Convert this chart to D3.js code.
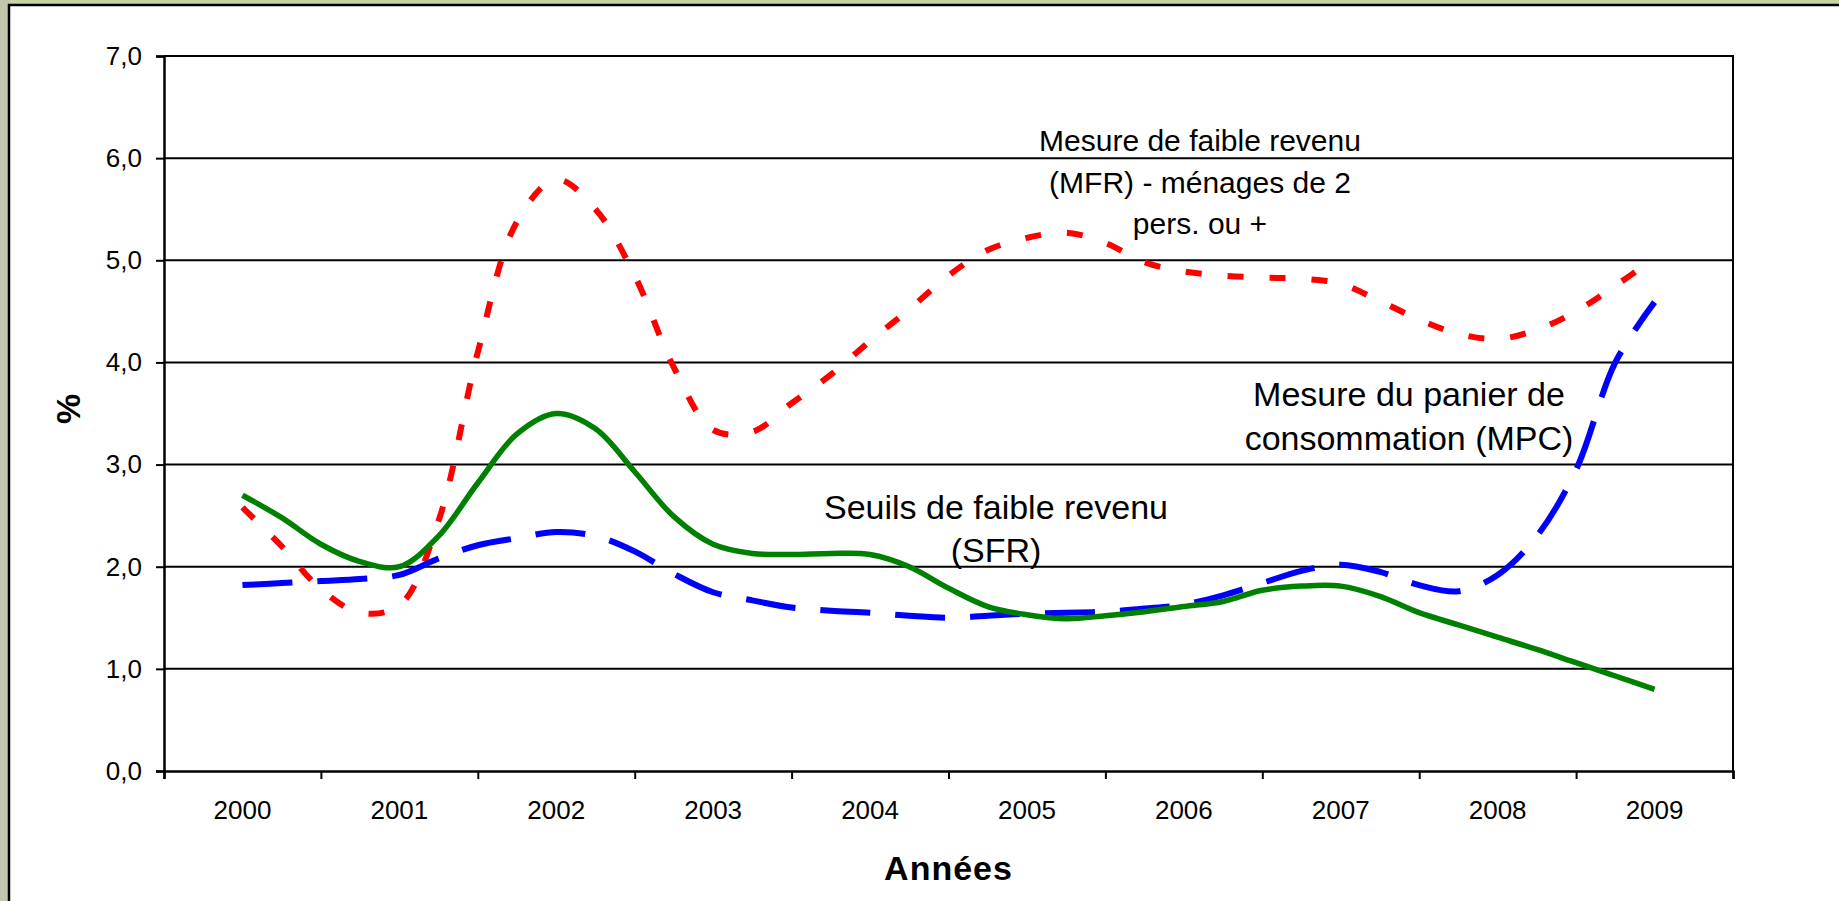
<!DOCTYPE html>
<html>
<head>
<meta charset="utf-8">
<script src="https://cdn.jsdelivr.net/npm/d3@7"></script>
<style>
  html, body { margin: 0; padding: 0; background: #c6d3a7; }
  svg { display: block; }
  text { font-family: "Liberation Sans", Arial, sans-serif; fill: #000; }
</style>
</head>
<body>
<svg id="chart" width="1839" height="901"></svg>
<script>
// ---- Data ----
const years = ["2000","2001","2002","2003","2004","2005","2006","2007","2008","2009"];
const yTicks = [0, 1, 2, 3, 4, 5, 6, 7];
// quarterly positions along the year axis
const periods = [2000, 2000.25, 2000.5, 2000.75, 2001, 2001.25, 2001.5, 2001.75, 2002, 2002.25, 2002.5, 2002.75,
  2003, 2003.25, 2003.5, 2003.75, 2004, 2004.25, 2004.5, 2004.75, 2005, 2005.25, 2005.5, 2005.75,
  2006, 2006.25, 2006.5, 2006.75, 2007, 2007.25, 2007.5, 2007.75, 2008, 2008.25, 2008.5, 2008.75, 2009];
// Seuils de faible revenu (SFR)
const sfr = [2.70, 2.48, 2.22, 2.05, 2.00, 2.30, 2.82, 3.30, 3.50, 3.35, 2.93, 2.49,
  2.22, 2.13, 2.12, 2.13, 2.12, 2.00, 1.79, 1.61, 1.53, 1.49, 1.52, 1.56,
  1.61, 1.66, 1.77, 1.81, 1.81, 1.71, 1.55, 1.43, 1.31, 1.19, 1.06, 0.93, 0.80];
// Mesure du panier de consommation (MPC)
const mpc = [1.82, 1.84, 1.86, 1.88, 1.92, 2.08, 2.21, 2.28, 2.34, 2.30, 2.15, 1.93,
  1.75, 1.67, 1.60, 1.57, 1.55, 1.52, 1.50, 1.52, 1.54, 1.55, 1.56, 1.59,
  1.63, 1.72, 1.84, 1.96, 2.02, 1.95, 1.82, 1.76, 1.92, 2.30, 2.95, 4.00, 4.59];
// Mesure de faible revenu (MFR) - ménages de 2 pers. ou +
const mfr = [2.58, 2.20, 1.78, 1.55, 1.62, 2.45, 4.10, 5.38, 5.79, 5.50, 4.85, 3.95,
  3.34, 3.32, 3.60, 3.88, 4.21, 4.52, 4.85, 5.10, 5.22, 5.27, 5.17, 4.98,
  4.89, 4.85, 4.83, 4.82, 4.77, 4.60, 4.42, 4.28, 4.23, 4.32, 4.50, 4.75, 5.02];

const labelMFR = ["Mesure de faible revenu", "(MFR) - ménages de 2", "pers. ou +"];
const labelMPC = ["Mesure du panier de", "consommation (MPC)"];
const labelSFR = ["Seuils de faible revenu", "(SFR)"];

// ---- Layout ----
const svg = d3.select("#chart");
const W = 1839, H = 901;
const plot = { left: 164, right: 1733, top: 56, bottom: 771 };

// frame
svg.append("rect").attr("x", 0).attr("y", 0).attr("width", W).attr("height", H).attr("fill", "#c6d3a7");
svg.append("rect").attr("x", 0).attr("y", 0).attr("width", 9).attr("height", H).attr("fill", "#c2c6ac");
svg.append("rect").attr("x", 9).attr("y", 5).attr("width", W + 20).attr("height", H + 20)
  .attr("fill", "#fff").attr("stroke", "#000").attr("stroke-width", 2.5);

const xBand = d3.scaleBand().domain(years).range([plot.left, plot.right]).padding(0);
const xLin = d3.scaleLinear().domain([1999.5, 2009.5]).range([plot.left, plot.right]);
const y = d3.scaleLinear().domain([0, 7]).range([plot.bottom, plot.top]);

// gridlines
svg.append("g").selectAll("line").data(yTicks.filter(d => d > 0)).join("line")
  .attr("x1", plot.left).attr("x2", plot.right)
  .attr("y1", d => y(d)).attr("y2", d => y(d))
  .attr("stroke", "#000").attr("stroke-width", 2);
// right border
svg.append("line").attr("x1", plot.right).attr("x2", plot.right)
  .attr("y1", y(7) - 1).attr("y2", y(0)).attr("stroke", "#000").attr("stroke-width", 2);

// y axis
const yAxis = svg.append("g").attr("transform", `translate(${plot.left},0)`)
  .call(d3.axisLeft(y).tickValues(yTicks).tickSize(8).tickPadding(14)
    .tickFormat(d => d3.format(".1f")(d).replace(".", ",")));
yAxis.select(".domain").attr("stroke", "#000").attr("stroke-width", 2.5);
yAxis.selectAll(".tick line").attr("stroke", "#000").attr("stroke-width", 2);
yAxis.selectAll("text").style("font-size", "26px").attr("font-family", "Liberation Sans, Arial, sans-serif");

// x axis ticks (between categories)
const boundaries = d3.range(0, years.length + 1).map(i => 1999.5 + i);
const xTicksG = svg.append("g").attr("transform", `translate(0,${plot.bottom})`)
  .call(d3.axisBottom(xLin).tickValues(boundaries).tickSize(8).tickFormat(""));
xTicksG.select(".domain").attr("stroke", "#000").attr("stroke-width", 2.5);
xTicksG.selectAll(".tick line").attr("stroke", "#000").attr("stroke-width", 2);

// x axis labels
const xLabG = svg.append("g").attr("transform", `translate(0,${plot.bottom})`)
  .call(d3.axisBottom(xBand).tickSize(0).tickPadding(30));
xLabG.select(".domain").remove();
xLabG.selectAll("text").style("font-size", "26px").attr("font-family", "Liberation Sans, Arial, sans-serif");

// axis titles
svg.append("text").attr("x", (plot.left + plot.right) / 2).attr("y", 880)
  .attr("text-anchor", "middle").style("font-size", "34px").style("font-weight", "bold")
  .style("letter-spacing", "1px").text("Années");
svg.append("text").attr("transform", "translate(80,409) rotate(-90)")
  .attr("text-anchor", "middle").style("font-size", "34px").style("font-weight", "bold").text("%");

// lines
const line = d3.line().x((d, i) => xLin(periods[i])).y(d => y(d)).curve(d3.curveCatmullRom.alpha(0.5));

svg.append("path").datum(mfr).attr("d", line).attr("fill", "none")
  .attr("stroke", "#ff0000").attr("stroke-width", 6).attr("stroke-dasharray", "16,26");
svg.append("path").datum(mpc).attr("d", line).attr("fill", "none")
  .attr("stroke", "#0000ff").attr("stroke-width", 6).attr("stroke-dasharray", "50,25");
svg.append("path").datum(sfr).attr("d", line).attr("fill", "none")
  .attr("stroke", "#008000").attr("stroke-width", 5.5);

// annotations
function addLabel(lines, cx, baseline, lh, size) {
  const t = svg.append("text").attr("text-anchor", "middle").style("font-size", size + "px");
  lines.forEach((s, i) => t.append("tspan").attr("x", cx).attr("y", baseline + i * lh).text(s));
}
addLabel(labelMFR, 1200, 151, 41.5, 30);
addLabel(labelMPC, 1409, 406, 43.5, 34);
addLabel(labelSFR, 996, 519, 43, 34);
</script>
</body>
</html>
